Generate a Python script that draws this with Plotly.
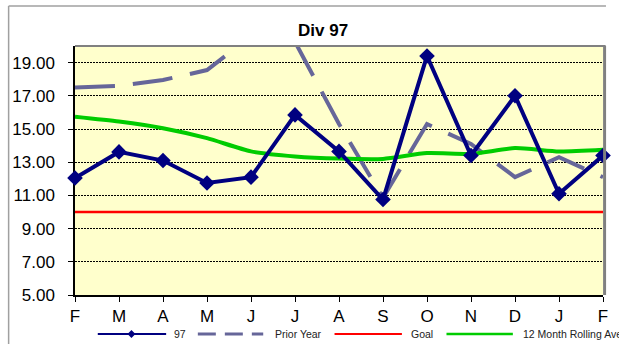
import plotly.graph_objects as go

# Monthly figures, Feb through the following Feb
months = ["F", "M", "A", "M", "J", "J", "A", "S", "O", "N", "D", "J", "F"]
div97 = [12.05, 13.62, 13.10, 11.75, 12.10, 15.85, 13.65, 10.75, 19.40, 13.40, 17.00, 11.10, 13.40]
prior_year = [17.50, 17.60, 17.95, 18.55, 20.60, 20.25, 15.30, 10.85, 15.30, 14.10, 12.10, 13.30, 12.10]
goal = [10.0] * 13
rolling_avg = [15.74, 15.45, 15.05, 14.45, 13.65, 13.35, 13.22, 13.20, 13.55, 13.50, 13.85, 13.65, 13.75]
y_ticks = [5, 7, 9, 11, 13, 15, 17, 19]

W, H = 619, 344
L, R, T, B = 75, 11, 46, 49
PW, PH = W - L - R, H - T - B

NAVY = "#000080"
SLATE = "#666699"
RED = "#FF0000"
GREEN = "#00CC00"
FONT = "Arial, Liberation Sans, sans-serif"


def px(x):
    return (x - L) / PW


def py(y):
    return (H - B - y) / PH


xs = list(range(len(months)))

fig = go.Figure()
fig.add_trace(go.Scatter(x=xs, y=goal, mode="lines", name="Goal",
                         line=dict(color=RED, width=2.5)))
fig.add_trace(go.Scatter(x=xs, y=prior_year, mode="lines", name="Prior Year",
                         line=dict(color=SLATE, width=4, dash="40px,18px")))
fig.add_trace(go.Scatter(x=xs, y=rolling_avg, mode="lines", name="12 Month Rolling Average",
                         line=dict(color=GREEN, width=4, shape="spline", smoothing=0.6)))
fig.add_trace(go.Scatter(x=xs, y=div97, mode="lines+markers", name="97",
                         line=dict(color=NAVY, width=4),
                         marker=dict(symbol="diamond", size=12, color=NAVY),
                         cliponaxis=False))

shapes = []
# outer frame (top and left edges visible)
shapes.append(dict(type="line", xref="paper", yref="paper", x0=px(8), x1=px(611),
                   y0=py(6), y1=py(6), line=dict(color="#A0A0A0", width=1.5)))
shapes.append(dict(type="line", xref="paper", yref="paper", x0=px(8), x1=px(8),
                   y0=py(6), y1=py(350), line=dict(color="#A0A0A0", width=1.5)))
# plot area border: grey top and right
shapes.append(dict(type="line", xref="paper", yref="paper", x0=0, x1=1.005,
                   y0=1, y1=1, line=dict(color="#808080", width=2), layer="above"))
shapes.append(dict(type="line", xref="paper", yref="paper", x0=1.003, x1=1.003,
                   y0=0, y1=1, line=dict(color="#808080", width=3), layer="above"))

# custom legend along the bottom edge
leg_y = py(334)
legend_items = [
    (98, 167, 173, "97", dict(color=NAVY, width=2)),
    (199, 265, 275, "Prior Year", dict(color=SLATE, width=3, dash="18px,9px")),
    (337, 405, 412, "Goal", dict(color=RED, width=2)),
    (450, 517, 525, "12 Month Rolling Average", dict(color=GREEN, width=2.5)),
]
annotations = []
for x0, x1, tx, label, ln in legend_items:
    shapes.append(dict(type="line", xref="paper", yref="paper", x0=px(x0), x1=px(x1),
                       y0=leg_y, y1=leg_y, line=ln))
    annotations.append(dict(xref="paper", yref="paper", x=px(tx), y=leg_y, text=label,
                            showarrow=False, xanchor="left", yanchor="middle",
                            font=dict(family=FONT, size=10.5, color="#222222")))
# diamond on the "97" legend sample
cx, cy, r = 132, 334, 4
shapes.append(dict(type="path", xref="paper", yref="paper",
                   path=f"M {px(cx - r)} {py(cy)} L {px(cx)} {py(cy - r)} L {px(cx + r)} {py(cy)} L {px(cx)} {py(cy + r)} Z",
                   fillcolor=NAVY, line=dict(color=NAVY, width=0)))

annotations.append(dict(xref="paper", yref="paper", x=px(325), y=py(31), text="<b>Div 97</b>",
                        showarrow=False, xanchor="center", yanchor="middle",
                        font=dict(family=FONT, size=17, color="#000000")))

fig.update_layout(
    width=W, height=H,
    margin=dict(l=L, r=R, t=T, b=B),
    paper_bgcolor="white",
    plot_bgcolor="#FFFFCC",
    showlegend=False,
    shapes=shapes,
    annotations=annotations,
    font=dict(family=FONT, size=17, color="#000000"),
)
fig.update_xaxes(range=[0, 12], tickmode="array", tickvals=xs, ticktext=months,
                 showgrid=False, zeroline=False, showline=True, linecolor="#000000", linewidth=1.5,
                 ticks="outside", ticklen=5, tickcolor="#000000", ticklabelstandoff=0,
                 tickfont=dict(family=FONT, size=17, color="#000000"), layer="below traces")
fig.update_yaxes(range=[5, 20], tickmode="array", tickvals=y_ticks, tickformat=".2f",
                 showgrid=True, gridcolor="#000000", gridwidth=0.8, griddash="2px,1px",
                 zeroline=False, showline=True, linecolor="#000000", linewidth=1.5,
                 ticks="outside", ticklen=5, tickcolor="#000000", ticklabelstandoff=10,
                 tickfont=dict(family=FONT, size=17, color="#000000"), layer="below traces")

fig.write_html("out.html")
